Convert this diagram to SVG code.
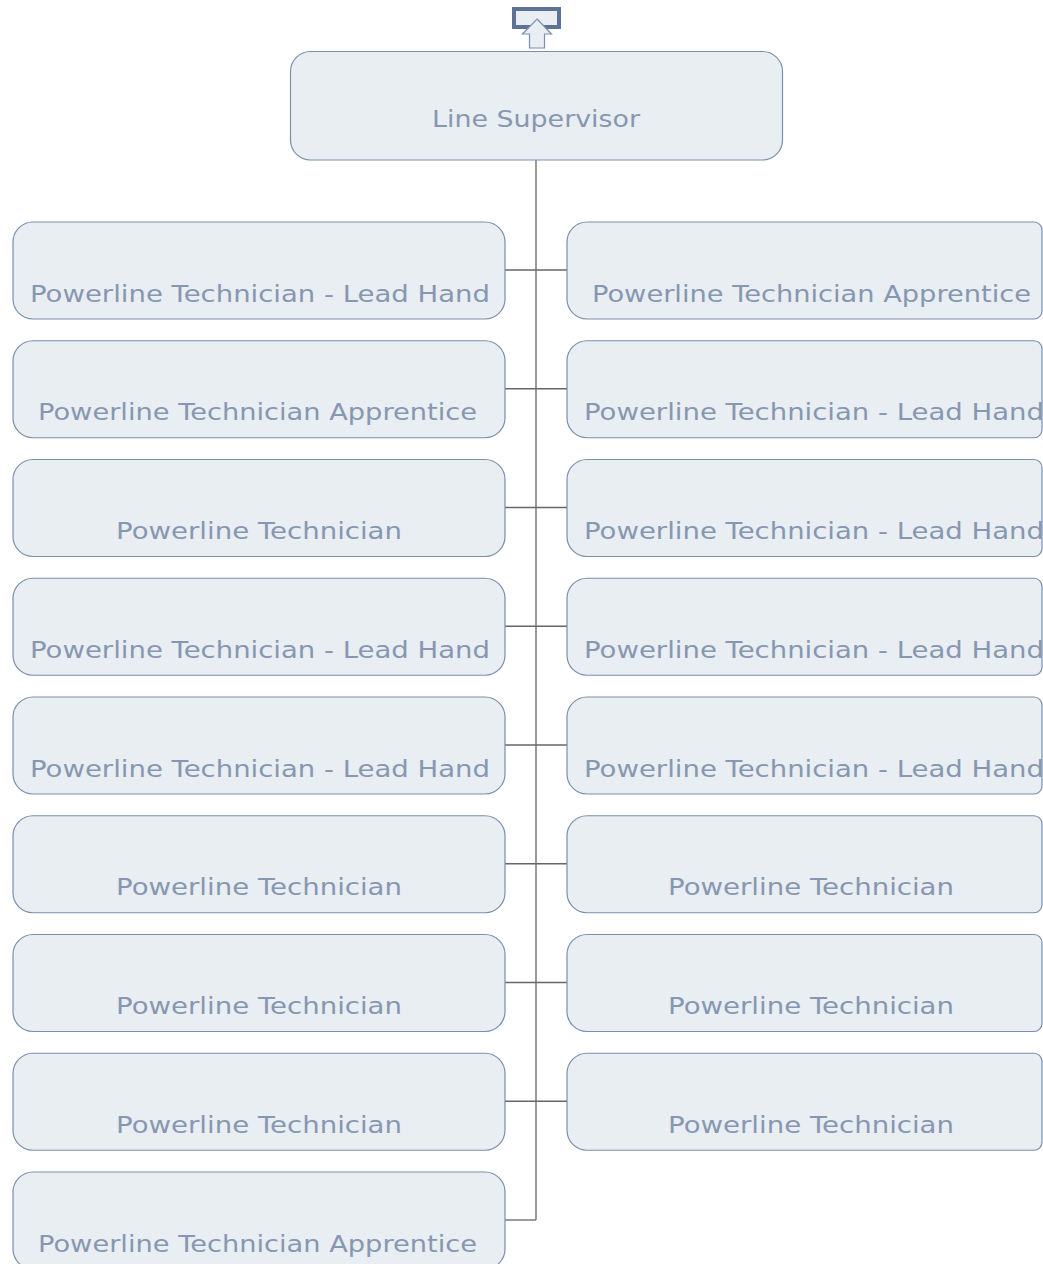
<svg xmlns="http://www.w3.org/2000/svg" width="1043" height="1264" viewBox="0 0 1043 1264">
<style>
.box{fill:#e9eef2;stroke:#7a8fae;stroke-width:1.2}
.t{font-family:"DejaVu Sans","Liberation Sans",Arial,sans-serif;font-size:23.5px;fill:#8797b1}
.c{stroke:#666;stroke-width:1.3;fill:none}
</style>
<rect width="1043" height="1264" fill="#fff"/>
<g id="icon">
<rect x="514" y="9" width="45" height="18" fill="#e9eef2" stroke="#5d7294" stroke-width="4"/>
<polygon points="537,19 551.5,34 544.5,34 544.5,48 529.5,48 529.5,34 522.5,34" fill="#e9eef2" stroke="#7a8fae" stroke-width="1.2"/>
</g>
<g id="connectors" class="c">
<line x1="536" y1="160" x2="536" y2="1220"/>
<line x1="505" y1="270" x2="567" y2="270"/>
<line x1="505" y1="388.75" x2="567" y2="388.75"/>
<line x1="505" y1="507.5" x2="567" y2="507.5"/>
<line x1="505" y1="626.25" x2="567" y2="626.25"/>
<line x1="505" y1="745" x2="567" y2="745"/>
<line x1="505" y1="863.75" x2="567" y2="863.75"/>
<line x1="505" y1="982.5" x2="567" y2="982.5"/>
<line x1="505" y1="1101.25" x2="567" y2="1101.25"/>
<line x1="505" y1="1220" x2="536" y2="1220"/>
</g>
<g id="root">
<rect class="box" x="290.5" y="51.5" width="492" height="108.5" rx="20"/>
<text class="t" x="432" y="127" textLength="208" lengthAdjust="spacingAndGlyphs">Line Supervisor</text>
</g>
<g id="L1"><rect class="box" x="13" y="222" width="492" height="97" rx="20"/><text class="t" x="30" y="301.5" textLength="460" lengthAdjust="spacingAndGlyphs">Powerline Technician - Lead Hand</text></g>
<g id="L2"><rect class="box" x="13" y="340.75" width="492" height="97" rx="20"/><text class="t" x="38" y="420.25" textLength="439" lengthAdjust="spacingAndGlyphs">Powerline Technician Apprentice</text></g>
<g id="L3"><rect class="box" x="13" y="459.5" width="492" height="97" rx="20"/><text class="t" x="116" y="539" textLength="286" lengthAdjust="spacingAndGlyphs">Powerline Technician</text></g>
<g id="L4"><rect class="box" x="13" y="578.25" width="492" height="97" rx="20"/><text class="t" x="30" y="657.75" textLength="460" lengthAdjust="spacingAndGlyphs">Powerline Technician - Lead Hand</text></g>
<g id="L5"><rect class="box" x="13" y="697" width="492" height="97" rx="20"/><text class="t" x="30" y="776.5" textLength="460" lengthAdjust="spacingAndGlyphs">Powerline Technician - Lead Hand</text></g>
<g id="L6"><rect class="box" x="13" y="815.75" width="492" height="97" rx="20"/><text class="t" x="116" y="895.25" textLength="286" lengthAdjust="spacingAndGlyphs">Powerline Technician</text></g>
<g id="L7"><rect class="box" x="13" y="934.5" width="492" height="97" rx="20"/><text class="t" x="116" y="1014" textLength="286" lengthAdjust="spacingAndGlyphs">Powerline Technician</text></g>
<g id="L8"><rect class="box" x="13" y="1053.25" width="492" height="97" rx="20"/><text class="t" x="116" y="1132.75" textLength="286" lengthAdjust="spacingAndGlyphs">Powerline Technician</text></g>
<g id="L9"><rect class="box" x="13" y="1172" width="492" height="97" rx="20"/><text class="t" x="38" y="1251.5" textLength="439" lengthAdjust="spacingAndGlyphs">Powerline Technician Apprentice</text></g>
<defs>
<path id="rb" d="M587,0 H1034 A8,8 0 0 1 1042,8 V89 A8,8 0 0 1 1034,97 H587 A20,20 0 0 1 567,77 V20 A20,20 0 0 1 587,0 Z"/>
</defs>
<g id="R1"><use href="#rb" class="box" y="222"/><text class="t" x="592" y="301.5" textLength="439" lengthAdjust="spacingAndGlyphs">Powerline Technician Apprentice</text></g>
<g id="R2"><use href="#rb" class="box" y="340.75"/><text class="t" x="584" y="420.25" textLength="460" lengthAdjust="spacingAndGlyphs">Powerline Technician - Lead Hand</text></g>
<g id="R3"><use href="#rb" class="box" y="459.5"/><text class="t" x="584" y="539" textLength="460" lengthAdjust="spacingAndGlyphs">Powerline Technician - Lead Hand</text></g>
<g id="R4"><use href="#rb" class="box" y="578.25"/><text class="t" x="584" y="657.75" textLength="460" lengthAdjust="spacingAndGlyphs">Powerline Technician - Lead Hand</text></g>
<g id="R5"><use href="#rb" class="box" y="697"/><text class="t" x="584" y="776.5" textLength="460" lengthAdjust="spacingAndGlyphs">Powerline Technician - Lead Hand</text></g>
<g id="R6"><use href="#rb" class="box" y="815.75"/><text class="t" x="668" y="895.25" textLength="286" lengthAdjust="spacingAndGlyphs">Powerline Technician</text></g>
<g id="R7"><use href="#rb" class="box" y="934.5"/><text class="t" x="668" y="1014" textLength="286" lengthAdjust="spacingAndGlyphs">Powerline Technician</text></g>
<g id="R8"><use href="#rb" class="box" y="1053.25"/><text class="t" x="668" y="1132.75" textLength="286" lengthAdjust="spacingAndGlyphs">Powerline Technician</text></g>
</svg>
